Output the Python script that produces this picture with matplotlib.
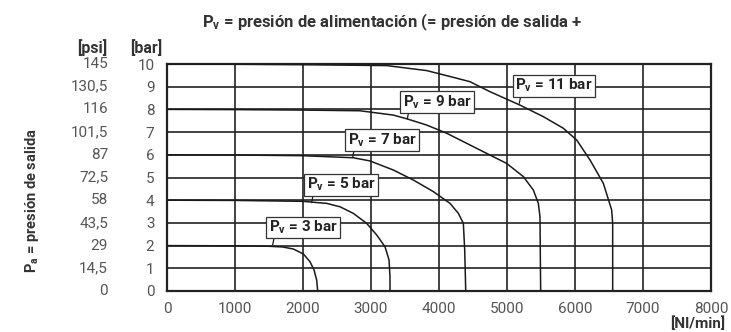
import matplotlib
matplotlib.use("Agg")
import matplotlib.pyplot as plt
from matplotlib.transforms import blended_transform_factory

plt.rcParams['font.family'] = ['Roboto', 'DejaVu Sans']
plt.rcParams['mathtext.fontset'] = 'custom'
plt.rcParams['mathtext.rm'] = 'Roboto:bold'
plt.rcParams['mathtext.it'] = 'Roboto:bold'
plt.rcParams['mathtext.bf'] = 'Roboto:bold'

# ---- data ----
x_ticks = [0, 1000, 2000, 3000, 4000, 5000, 6000, 7000, 8000]
bar_ticks = [0, 1, 2, 3, 4, 5, 6, 7, 8, 9, 10]
psi_labels = ["0", "14,5", "29", "43,5", "58", "72,5", "87", "101,5", "116", "130,5", "145"]

q3 = [0, 1000, 1500, 1700, 1858, 2005, 2103, 2162, 2201, 2216]
p3 = [2.0, 1.99, 1.97, 1.94, 1.85, 1.63, 1.29, 0.93, 0.48, 0.0]

q5 = [0, 1000, 2000, 2152, 2348, 2544, 2740, 2936, 3083, 3206, 3265, 3279, 3280]
p5 = [4.0, 3.99, 3.95, 3.91, 3.86, 3.71, 3.42, 2.98, 2.47, 1.95, 1.37, 0.63, 0.0]

q7 = [0, 1000, 2000, 2740, 2985, 3328, 3622, 3916, 4162, 4285, 4358, 4378, 4393]
p7 = [6.0, 5.99, 5.96, 5.87, 5.73, 5.33, 4.89, 4.38, 3.86, 3.42, 2.98, 1.81, 0.0]

q9 = [0, 1000, 2000, 2838, 3328, 3534, 3819, 4113, 4603, 4995, 5240, 5387, 5461, 5485, 5495]
p9 = [8.0, 7.99, 7.97, 7.94, 7.75, 7.58, 7.31, 6.95, 6.21, 5.62, 5.04, 4.45, 3.86, 3.27, 0.0]

q11 = [0, 1000, 2000, 3230, 3819, 4200, 4456, 4750, 5191, 5534, 5828, 6025, 6221, 6417, 6539, 6554, 6554]
p11 = [10.0, 9.99, 9.97, 9.93, 9.71, 9.42, 9.22, 8.78, 8.19, 7.68, 7.17, 6.65, 5.77, 4.74, 3.57, 2.98, 0.0]

series = [(q3, p3), (q5, p5), (q7, p7), (q9, p9), (q11, p11)]
supply = [3, 5, 7, 9, 11]
# label box centres and pointer tips (data coords)
label_pos = [(2000, 2.80), (2559, 4.68), (3162, 6.65), (3970, 8.33), (5688, 9.04)]
label_tip = [(1554, 2.03), (2127, 3.89), (2730, 5.89), (3534, 7.58), (5181, 8.27)]

W, H = 731, 332
fig = plt.figure(figsize=(W / 100, H / 100), dpi=100)
ax = fig.add_axes([167 / W, 1 - 291 / H, (711 - 167) / W, (291 - 64) / H])

ax.set_xlim(0, 8000)
ax.set_ylim(0, 10)
ax.set_xticks(x_ticks)
ax.set_yticks(bar_ticks)
ax.grid(True, color='#222222', linewidth=1.2)
ax.set_axisbelow(True)
for s in ax.spines.values():
    s.set_linewidth(1.6)
    s.set_color('#222222')
ax.tick_params(length=0, labelsize=11, labelcolor='#555555')
ax.tick_params(axis='x', pad=8)
ax.tick_params(axis='y', pad=9)

for (q, p) in series:
    ax.plot(q, p, color='#1a1a1a', linewidth=1.1, solid_capstyle='butt', zorder=3)

for v, (cx, cy), (tx, ty) in zip(supply, label_pos, label_tip):
    ax.annotate("", xy=(tx, ty), xytext=(tx + 50, cy),
                arrowprops=dict(arrowstyle='-', color='#1a1a1a', lw=0.9,
                                shrinkA=0, shrinkB=0), zorder=4)
    ax.text(cx, cy, r"P$_\mathrm{v}$" + " = %d bar" % v, ha='center', va='center',
            fontsize=11, fontweight='bold', color='#222222', zorder=5,
            bbox=dict(boxstyle='square,pad=0.14', facecolor='white',
                      edgecolor='#333333', linewidth=0.9))

# psi labels
tr = blended_transform_factory(fig.transFigure, ax.transData)
for b, s in zip(bar_ticks, psi_labels):
    ax.text(108 / W, b, s, transform=tr, ha='right', va='center', fontsize=11,
            color='#555555', clip_on=False)

fig.text(92 / W, 1 - 48 / H, "[psi]", ha='center', va='center', fontsize=11.5,
         fontweight='bold', color='#333333')
fig.text(146 / W, 1 - 48 / H, "[bar]", ha='center', va='center', fontsize=11.5,
         fontweight='bold', color='#333333')
fig.text(725 / W, 1 / H, "[Nl/min]", ha='right', va='bottom', fontsize=11,
         fontweight='bold', color='#333333')
fig.text(392 / W, 1 - 22 / H,
         r"P$_\mathrm{v}$" + " = presión de alimentación (= presión de salida +",
         ha='center', va='center', fontsize=12, fontweight='bold', color='#333333')
fig.text(32 / W, 1 - 201 / H, r"P$_\mathrm{a}$" + " = presión de salida",
         ha='center', va='center', rotation=90, fontsize=10.5, fontweight='bold',
         color='#333333')

fig.savefig("out.png", dpi=100)
